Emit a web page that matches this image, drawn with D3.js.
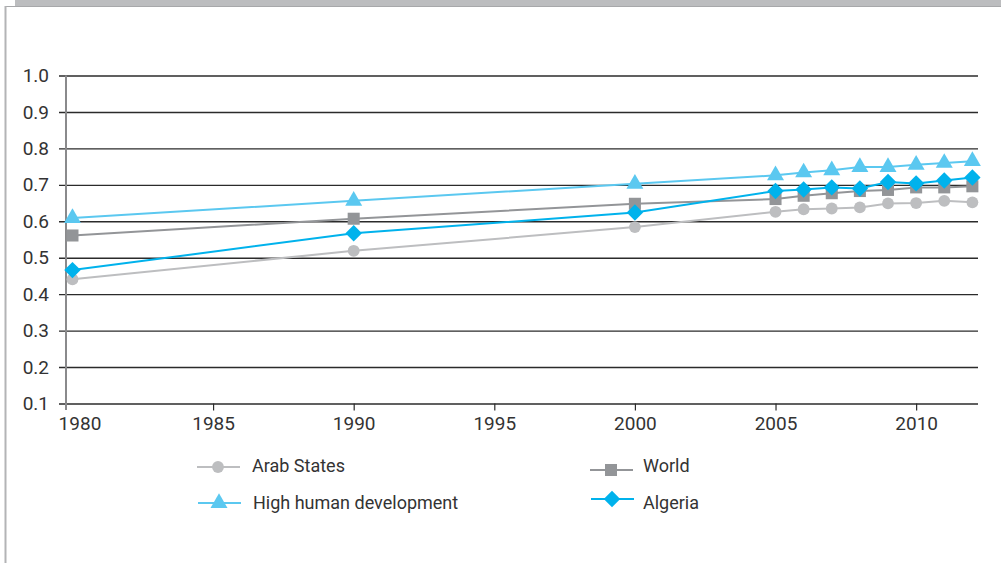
<!DOCTYPE html>
<html>
<head>
<meta charset="utf-8">
<script src="https://cdn.jsdelivr.net/npm/d3@7"></script>
<style>
  body { margin: 0; background: #fff; }
  text { font-family: Roboto, "DejaVu Sans", sans-serif; fill: #333; }
</style>
</head>
<body>
<div id="chart"></div>
<script>
// data
const years = [1980, 1990, 2000, 2005, 2006, 2007, 2008, 2009, 2010, 2011, 2012];
const arabStates = [0.441, 0.519, 0.584, 0.626, 0.633, 0.635, 0.638, 0.649, 0.650, 0.656, 0.652];
const world      = [0.561, 0.607, 0.648, 0.661, 0.670, 0.677, 0.683, 0.686, 0.693, 0.693, 0.696];
const highHD     = [0.609, 0.656, 0.703, 0.726, 0.734, 0.740, 0.749, 0.749, 0.755, 0.760, 0.765];
const algeria    = [0.466, 0.567, 0.624, 0.683, 0.687, 0.693, 0.690, 0.708, 0.704, 0.712, 0.720];
const yTicks = [0.1, 0.2, 0.3, 0.4, 0.5, 0.6, 0.7, 0.8, 0.9, 1.0];
const xTicks = [1980, 1985, 1990, 1995, 2000, 2005, 2010];

const diamond = {
  draw(context, size) {
    const r = Math.sqrt(size / 2);
    context.moveTo(0, -r);
    context.lineTo(r, 0);
    context.lineTo(0, r);
    context.lineTo(-r, 0);
    context.closePath();
  }
};

const series = [
  {name: "Arab States", values: arabStates, color: "#bdbec0", symbol: d3.symbolCircle, size: 110},
  {name: "World", values: world, color: "#939598", symbol: d3.symbolSquare, size: 145},
  {name: "High human development", values: highHD, color: "#5bc8f0", symbol: d3.symbolTriangle, size: 125},
  {name: "Algeria", values: algeria, color: "#00b2ec", symbol: diamond, size: 135}
];

const width = 1003, height = 563;
const svg = d3.select("#chart").append("svg")
  .attr("width", width).attr("height", height);

// frame
svg.append("rect").attr("x", 15).attr("y", 0).attr("width", 986).attr("height", 6).attr("fill", "#bcbdbf");
svg.append("line").attr("x1", 5).attr("x2", 1001).attr("y1", 6.5).attr("y2", 6.5)
  .attr("stroke", "#a7a8aa").attr("stroke-width", 1.2);
svg.append("line").attr("x1", 5.5).attr("x2", 5.5).attr("y1", 6).attr("y2", height)
  .attr("stroke", "#b3b4b6").attr("stroke-width", 2);

const x = d3.scaleLinear().domain([1979.77, 2012.2]).range([66, 978]);
const y = d3.scaleLinear().domain([0.1, 1.0]).range([403.5, 75.5]);

// horizontal grid
const yAxis = svg.append("g")
  .attr("transform", "translate(978,0)")
  .call(d3.axisLeft(y).tickValues(yTicks).tickFormat(d3.format(".1f"))
    .tickSize(919).tickPadding(10));
yAxis.select(".domain").remove();
yAxis.selectAll(".tick line").attr("stroke", "#2b2b2b").attr("stroke-width", 1.4);
yAxis.selectAll(".tick text").style("font-size", "19px").attr("fill", "#333");

// vertical axis line
svg.append("line").attr("x1", 66).attr("x2", 66).attr("y1", 75.5).attr("y2", 410)
  .attr("stroke", "#8a8a8c").attr("stroke-width", 2);

// x axis
const xAxis = svg.append("g")
  .attr("transform", "translate(0,403.5)")
  .call(d3.axisBottom(x).tickValues(xTicks).tickFormat(d3.format("d"))
    .tickSize(7).tickPadding(6));
xAxis.select(".domain").remove();
xAxis.selectAll(".tick line").attr("stroke", "#2b2b2b").attr("stroke-width", 1.2)
  .filter(d => d === 1980).remove();
xAxis.selectAll(".tick text").style("font-size", "19px").attr("fill", "#333")
  .attr("dx", d => d === 1980 ? 7 : 0);

// lines and markers
const line = d3.line().x((d, i) => x(years[i])).y(d => y(d));
const marks = svg.append("g");
series.forEach(s => {
  marks.append("path").datum(s.values)
    .attr("fill", "none").attr("stroke", s.color).attr("stroke-width", 2)
    .attr("d", line);
});
series.forEach(s => {
  marks.selectAll(null).data(s.values).enter().append("path")
    .attr("transform", (d, i) => `translate(${x(years[i])},${y(d)})`)
    .attr("d", d3.symbol().type(s.symbol).size(s.size))
    .attr("fill", s.color);
});

// legend
const legendPos = [
  {x: 197, y: 467, tx: 252, ty: 466},
  {x: 590, y: 470, tx: 643, ty: 466},
  {x: 198, y: 503, tx: 253, ty: 503},
  {x: 591, y: 499, tx: 643, ty: 503}
];
series.forEach((s, i) => {
  const p = legendPos[i];
  const g = svg.append("g");
  g.append("line").attr("x1", p.x).attr("x2", p.x + 43).attr("y1", p.y).attr("y2", p.y)
    .attr("stroke", s.color).attr("stroke-width", 2);
  g.append("path").attr("transform", `translate(${p.x + 21},${p.y})`)
    .attr("d", d3.symbol().type(s.symbol).size(s.size))
    .attr("fill", s.color);
  g.append("text").attr("x", p.tx).attr("y", p.ty).attr("dy", "0.35em")
    .style("font-size", "18px").text(s.name);
});
</script>
</body>
</html>
